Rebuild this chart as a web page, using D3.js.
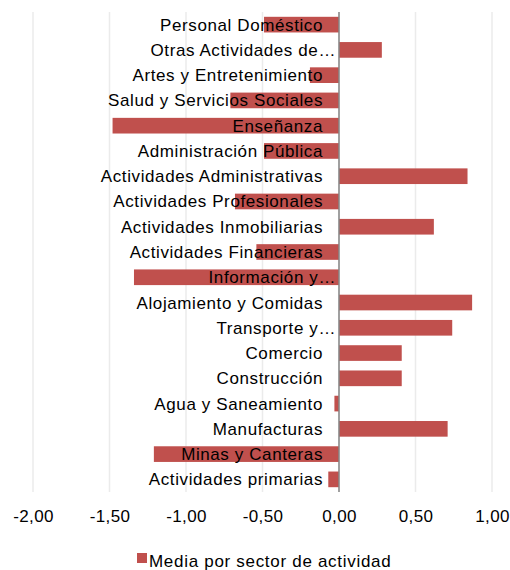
<!DOCTYPE html>
<html>
<head>
<meta charset="utf-8">
<script src="https://cdn.jsdelivr.net/npm/d3@7"></script>
<style>
  body { margin: 0; background: #fff; }
  text { font-family: "Liberation Sans", Arial, sans-serif; fill: #000; }
</style>
</head>
<body>
<script>
'use strict';
(function() {

  // categories, top to bottom as drawn
  const sectors = [
    "Personal Doméstico",
    "Otras Actividades de…",
    "Artes y Entretenimiento",
    "Salud y Servicios Sociales",
    "Enseñanza",
    "Administración Pública",
    "Actividades Administrativas",
    "Actividades Profesionales",
    "Actividades Inmobiliarias",
    "Actividades Financieras",
    "Información y…",
    "Alojamiento y Comidas",
    "Transporte y…",
    "Comercio",
    "Construcción",
    "Agua y Saneamiento",
    "Manufacturas",
    "Minas y Canteras",
    "Actividades primarias"
  ];

  // media por sector de actividad
  const media = [
    -0.49, 0.28, -0.19, -0.71, -1.48, -0.49, 0.84, -0.68, 0.62, -0.54,
    -1.34, 0.87, 0.74, 0.41, 0.41, -0.03, 0.71, -1.21, -0.07
  ];

  const xTicks = [-2, -1.5, -1, -0.5, 0, 0.5, 1];
  const seriesName = "Media por sector de actividad";
  const barColor = "#C0504D";

  const width = 510, height = 570;
  const plot = { left: 33, right: 492, top: 12, bottom: 492 };

  const svg = d3.select('body')
    .append('svg')
    .attr('width', width)
    .attr('height', height);

  const xScale = d3.scaleLinear()
    .domain([-2, 1])
    .range([plot.left, plot.right]);

  const yScale = d3.scaleBand()
    .domain(sectors)
    .range([plot.top, plot.bottom])
    .paddingInner(0.38)
    .paddingOuter(0.19);

  // comma decimals, plain hyphen minus
  const locale = d3.formatLocale({
    decimal: ",", thousands: ".", grouping: [3], currency: ["", ""], minus: "-"
  });
  const fmt = locale.format(".2f");

  // vertical gridlines
  svg.append('g')
    .selectAll('line')
    .data(xTicks)
    .enter()
    .append('line')
    .attr('x1', d => xScale(d))
    .attr('x2', d => xScale(d))
    .attr('y1', plot.top)
    .attr('y2', plot.bottom)
    .style('stroke', '#ebebeb')
    .style('stroke-width', 1.5);

  // bars
  svg.append('g')
    .selectAll('rect')
    .data(sectors)
    .enter()
    .append('rect')
    .attr('x', (d, i) => xScale(Math.min(0, media[i])))
    .attr('y', d => yScale(d))
    .attr('width', (d, i) => Math.abs(xScale(media[i]) - xScale(0)))
    .attr('height', yScale.bandwidth())
    .style('fill', barColor);

  // category labels, right-aligned just left of zero
  svg.append('g')
    .selectAll('text')
    .data(sectors)
    .enter()
    .append('text')
    .attr('x', d => xScale(0) - (d.endsWith('…') ? 3 : 16))
    .attr('y', d => yScale(d) + yScale.bandwidth() / 2 + 6)
    .attr('text-anchor', 'end')
    .style('font-size', '17px')
    .style('letter-spacing', '0.6px')
    .text(d => d);

  // zero axis line on top
  svg.append('line')
    .attr('x1', xScale(0))
    .attr('x2', xScale(0))
    .attr('y1', plot.top)
    .attr('y2', plot.bottom)
    .style('stroke', '#868686')
    .style('stroke-width', 1.5);

  // x axis tick labels
  const xAxis = d3.axisBottom(xScale)
    .tickValues(xTicks)
    .tickFormat(fmt)
    .tickSize(0)
    .tickPadding(0);

  const gx = svg.append('g')
    .attr('transform', 'translate(0, 510)')
    .call(xAxis);
  gx.select('.domain').remove();
  gx.selectAll('text')
    .attr('dy', '0.72em')
    .style('font-family', '"Liberation Sans", Arial, sans-serif')
    .style('font-size', '17px')
    .style('letter-spacing', '0.4px')
    .style('fill', '#000');

  // legend
  const legend = svg.append('g');
  legend.append('rect')
    .attr('x', 137)
    .attr('y', 553)
    .attr('width', 10)
    .attr('height', 10)
    .style('fill', barColor);
  legend.append('text')
    .attr('x', 149)
    .attr('y', 567)
    .style('font-size', '17px')
    .style('letter-spacing', '0.7px')
    .text(seriesName);

})();
</script>
</body>
</html>
